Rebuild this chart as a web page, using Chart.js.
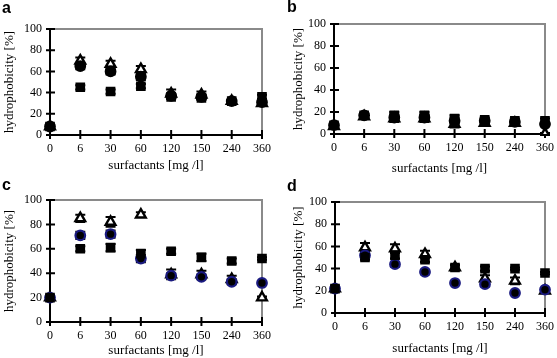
<!DOCTYPE html>
<html><head><meta charset="utf-8">
<script src="https://cdn.jsdelivr.net/npm/chart.js@4"></script>
<style>
html,body{margin:0;padding:0;background:#fff;}
body{width:557px;height:358px;position:relative;overflow:hidden;}
.p{position:absolute;}
.lbl{position:absolute;font-family:"Liberation Sans",Arial,sans-serif;font-weight:bold;font-size:16px;line-height:16px;color:#000;}
</style></head><body>
<div class="p" style="left:0;top:0;width:278px;height:178px"><canvas id="ca"></canvas></div>
<div class="p" style="left:278px;top:0;width:279px;height:178px"><canvas id="cb"></canvas></div>
<div class="p" style="left:0;top:178px;width:278px;height:180px"><canvas id="cc"></canvas></div>
<div class="p" style="left:278px;top:178px;width:279px;height:180px"><canvas id="cd"></canvas></div>
<div class="lbl" style="left:2px;top:0px">a</div>
<div class="lbl" style="left:287px;top:-1px">b</div>
<div class="lbl" style="left:2px;top:177px">c</div>
<div class="lbl" style="left:287px;top:178px">d</div>
<script>
const categories = ['0','6','30','60','120','150','240','360'];
const yTicks = [0,20,40,60,80,100];
const xTitle = 'surfactants [mg /l]';
const yTitle = 'hydrophobicity [%]';

// panel a
const aSquares   = [8, 45, 41, 46, 36, 35, 32, 36];
const aCircles   = [8, 65, 60, 55, 37, 36, 32, 31];
const aTriangles = [8, 70, 67, 62, 39, 38, 32, 30];
const aSquaresErr   = [2, 2, 2, 2, 2, 2, 1, 2];
const aCirclesErr   = [2, 3, 3, 3, 2, 2, 1, 2];
const aTrianglesErr = [2, 3, 3, 3, 4, 3, 1, 1];
// panel b
const bSquares   = [8, 17, 17, 17, 14, 13, 12, 12];
const bCircles   = [8, 17, 15, 15, 12, 12, 11, 9];
const bTriangles = [7, 16, 14, 14, 9, 10, 10, 0];
const bSquaresErr   = [2, 2, 3, 3, 3, 2, 2, 2];
const bCirclesErr   = [2, 2, 3, 3, 3, 2, 2, 2];
const bTrianglesErr = [2, 2, 3, 3, 3, 2, 2, 1];
// panel c
const cSquares   = [20, 60, 61, 56, 58, 53, 50, 52];
const cCircles   = [20, 71, 72, 52, 38, 37, 33, 32];
const cTriangles = [20, 85, 82, 88, 39, 39, 35, 20];
const cSquaresErr   = [2, 2, 3, 3, 2, 3, 2, 1];
const cCirclesErr   = [2, 3, 3, 3, 2, 2, 2, 1];
const cTrianglesErr = [2, 3, 4, 2, 4, 3, 3, 1];
// panel d
const dSquares   = [22, 50, 52, 48, 41, 40, 40, 36];
const dCircles   = [22, 52, 44, 37, 27, 26, 18, 21];
const dTriangles = [22, 59, 58, 53, 41, 31, 29, 20];
const dSquaresErr   = [2, 2, 3, 2, 2, 2, 1, 1];
const dCirclesErr   = [2, 2, 2, 2, 1, 2, 1, 1];
const dTrianglesErr = [2, 4, 4, 3, 2, 3, 3, 1];

const SERIF = '"Liberation Serif","Times New Roman",serif';

const errPlugin = {
  id: 'errbars',
  beforeDatasetsDraw(chart) {
    const ctx = chart.ctx, ys = chart.scales.y, xs = chart.scales.x;
    ctx.save();
    ctx.strokeStyle = '#000';
    ctx.lineWidth = 2;
    chart.data.datasets.forEach(ds => {
      if (!ds.err) return;
      ds.data.forEach((v, i) => {
        const e = ds.err[i];
        const x = xs.getPixelForValue(i);
        const y1 = ys.getPixelForValue(v - e), y2 = ys.getPixelForValue(v + e);
        ctx.beginPath();
        ctx.moveTo(x, y1); ctx.lineTo(x, y2);
        ctx.moveTo(x - 5, y1); ctx.lineTo(x + 5, y1);
        ctx.moveTo(x - 5, y2); ctx.lineTo(x + 5, y2);
        ctx.stroke();
      });
    });
    ctx.restore();
  }
};
const framePlugin = {
  id: 'frame',
  beforeDatasetsDraw(chart) {
    const ctx = chart.ctx, a = chart.chartArea, xs = chart.scales.x, ys = chart.scales.y;
    ctx.save();
    ctx.strokeStyle = '#8a8a8a';
    ctx.lineWidth = 2;
    ctx.beginPath();
    ctx.moveTo(a.left, a.top); ctx.lineTo(a.right, a.top); ctx.lineTo(a.right, a.bottom);
    ctx.stroke();
    ctx.strokeStyle = '#000';
    ctx.lineWidth = 2;
    ctx.beginPath();
    ys.ticks.forEach(t => {
      const y = ys.getPixelForValue(t.value);
      ctx.moveTo(a.left - 4, y); ctx.lineTo(a.left + 5, y);
    });
    xs.ticks.forEach((t, i) => {
      const x = xs.getPixelForValue(i);
      ctx.moveTo(x, a.bottom - 5); ctx.lineTo(x, a.bottom + 4);
    });
    ctx.stroke();
    ctx.beginPath();
    ctx.moveTo(a.left, a.top); ctx.lineTo(a.left, a.bottom); ctx.lineTo(a.right, a.bottom);
    ctx.stroke();
    ctx.restore();
  }
};

function makeChart(id, sq, ci, tr, sqE, ciE, trE, circleEdge, g) {
  new Chart(document.getElementById(id), {
    type: 'line',
    data: {
      labels: categories,
      datasets: [
        {data: sq, err: sqE, showLine: false, pointStyle: 'rect', pointRadius: 6.8, pointBackgroundColor: '#000', pointBorderColor: '#000', pointBorderWidth: 0},
        {data: ci, err: ciE, showLine: false, pointStyle: 'circle', pointRadius: 4.8, pointBackgroundColor: '#000', pointBorderColor: circleEdge, pointBorderWidth: 2.2},
        {data: tr, err: trE, showLine: false, pointStyle: 'triangle', pointRadius: 5.6, pointBackgroundColor: '#fff', pointBorderColor: '#000', pointBorderWidth: 2.4}
      ]
    },
    options: {
      responsive: true, maintainAspectRatio: false, animation: false,
      layout: {padding: {top: g.top, right: g.right, left: 0, bottom: 0}},
      plugins: {legend: {display: false}, tooltip: {enabled: false}},
      elements: {point: {hoverRadius: 5}},
      scales: {
        x: {
          type: 'category', offset: false,
          grid: {display: false, drawTicks: true, tickLength: 4},
          border: {display: false},
          ticks: {color: '#000', font: {family: SERIF, size: 12}, padding: 3, maxRotation: 0, autoSkip: false},
          title: {display: true, text: xTitle, color: '#000', font: {family: SERIF, size: 13}, padding: {top: 0, bottom: g.xtp}},
          afterFit(s) { s.height = g.xh; }
        },
        y: {
          min: 0, max: 100,
          afterBuildTicks(s) { s.ticks = yTicks.map(v => ({value: v})); },
          grid: {display: false, drawTicks: true, tickLength: 4},
          border: {display: false},
          ticks: {color: '#000', font: {family: SERIF, size: 12}, padding: 4},
          title: {display: true, text: yTitle, color: '#000', font: {family: SERIF, size: 13}, padding: {top: g.ytp, bottom: 0}},
          afterFit(s) { s.width = g.yw; }
        }
      }
    },
    plugins: [framePlugin, errPlugin]
  });
}

makeChart('ca', aSquares, aCircles, aTriangles, aSquaresErr, aCirclesErr, aTrianglesErr, '#000', {top: 29, right: 16, xh: 43, yw: 50, xtp: 5, ytp: 2});
makeChart('cb', bSquares, bCircles, bTriangles, bSquaresErr, bCirclesErr, bTrianglesErr, '#000', {top: 24, right: 8, xh: 44, yw: 56, xtp: 2, ytp: 13});
makeChart('cc', cSquares, cCircles, cTriangles, cSquaresErr, cCirclesErr, cTrianglesErr, '#1a1a80', {top: 22, right: 16, xh: 36, yw: 50, xtp: 0, ytp: 2});
makeChart('cd', dSquares, dCircles, dTriangles, dSquaresErr, dCirclesErr, dTrianglesErr, '#1a1a80', {top: 24, right: 8, xh: 45, yw: 57, xtp: 2, ytp: 13});
</script>
</body></html>
